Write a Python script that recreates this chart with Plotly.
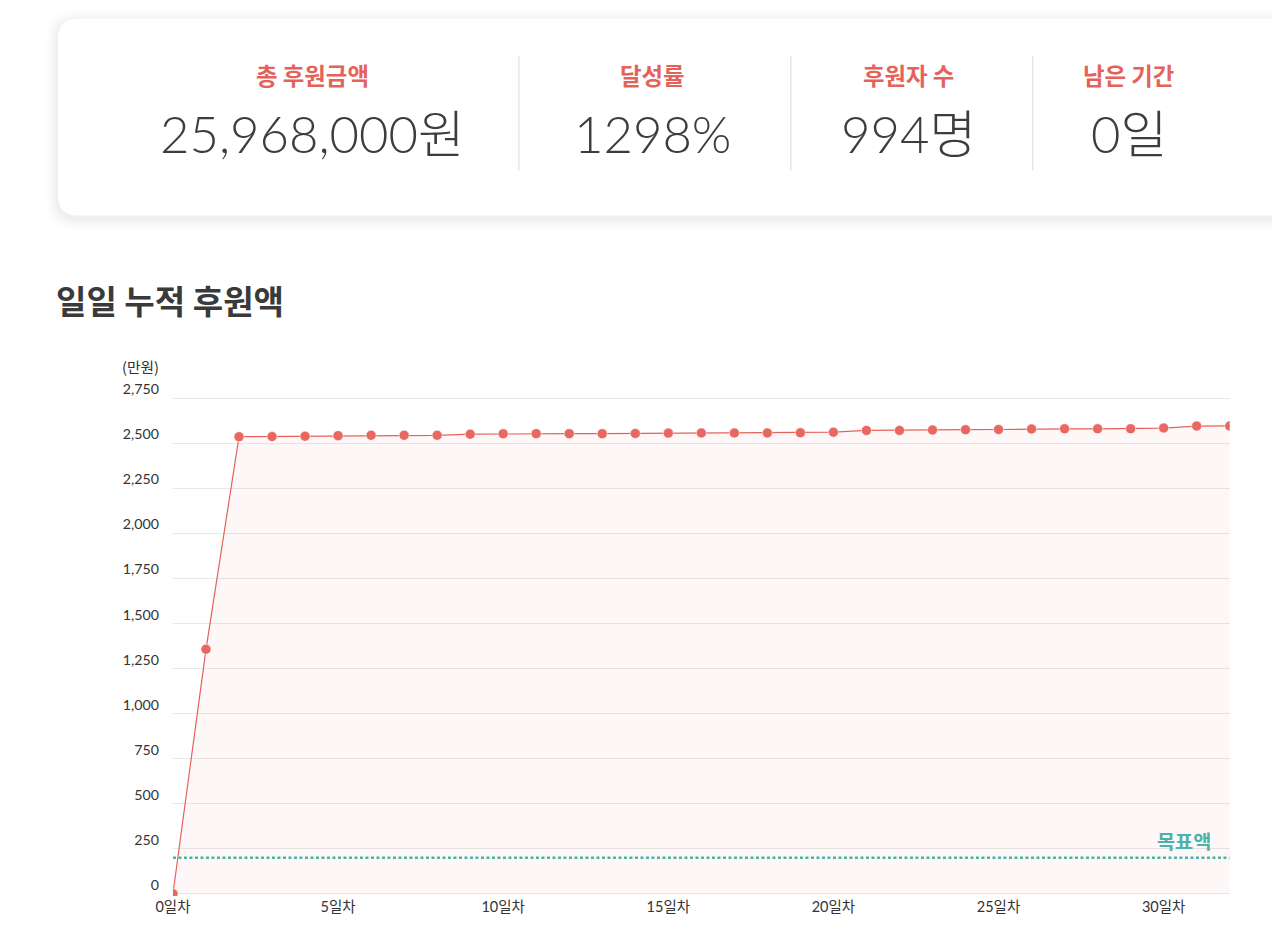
import plotly.graph_objects as go

# ---- data ----
days = list(range(0, 33))
cumulative = [0, 1357, 2537, 2538, 2540, 2543, 2545, 2545, 2545, 2551,
              2553, 2554, 2554, 2554, 2555, 2557, 2558, 2558, 2558, 2559,
              2562, 2572, 2572, 2574, 2576, 2577, 2580, 2581, 2581, 2581,
              2585, 2596, 2596.8]
goal = 200
x_ticks = [0, 5, 10, 15, 20, 25, 30]
x_tick_text = [f"{v}일차" for v in x_ticks]
y_ticks = [0, 250, 500, 750, 1000, 1250, 1500, 1750, 2000, 2250, 2500, 2750]

stat_labels = ["총 후원금액", "달성률", "후원자 수", "남은 기간"]
stat_values = ["25,968,000원", "1298%", "994명", "0일"]

chart_title = "일일 누적 후원액"
unit_label = "(만원)"
goal_label = "목표액"

# ---- geometry helpers: target page pixels -> paper (empirically calibrated) ----
W, H = 1264, 931
AX, BX = 25.0, 0.986
AY, BY = 23.2, 0.984
S = 1 / 0.985  # font compensation
def px(x):
    return ((x - AX) / BX) / W
def py(y):
    return 1 - ((y - AY) / BY) / H
def fs(v):
    return round(v * S, 1)

RED = "rgb(229,98,90)"
TEAL = "rgb(74,178,167)"
FONT = "Lato, 'Noto Sans CJK KR', sans-serif"
KFONT = "'Noto Sans CJK KR', Lato, sans-serif"

# y range padded slightly so the 0 and 2,750 grid lines are drawn inside the plot
Y_PAD = 12
k = (894 - 398) / 2750.0
y_bottom_px = 894 + Y_PAD * k
y_top_px = 398 - Y_PAD * k

fig = go.Figure()

fig.add_trace(go.Scatter(
    x=days, y=cumulative, mode="lines+markers",
    line=dict(color=RED, width=1.2),
    marker=dict(size=10, color="rgb(232,104,97)",
                line=dict(color="rgba(255,255,255,0.5)", width=1)),
    fill="tozeroy", fillcolor="rgba(232,102,95,0.05)",
    hoverinfo="x+y", showlegend=False,
))

fig.add_trace(go.Scatter(
    x=[0, 32], y=[goal, goal], mode="lines",
    line=dict(color=TEAL, width=2.4, dash="3px,2.5px"),
    hoverinfo="skip", showlegend=False,
))

def rounded_rect(x0, y0, x1, y1, r):
    def P(x, y):
        return f"{px(x):.5f},{py(y):.5f}"
    return (f"M {P(x0 + r, y0)} L {P(x1 - r, y0)} Q {P(x1, y0)} {P(x1, y0 + r)} "
            f"L {P(x1, y1 - r)} Q {P(x1, y1)} {P(x1 - r, y1)} "
            f"L {P(x0 + r, y1)} Q {P(x0, y1)} {P(x0, y1 - r)} "
            f"L {P(x0, y0 + r)} Q {P(x0, y0)} {P(x0 + r, y0)} Z")

shapes = []
# soft shadow layers
for i, a in enumerate([0.007, 0.008, 0.009, 0.011, 0.013, 0.015]):
    g = 12 - 2 * i
    shapes.append(dict(type="path", xref="paper", yref="paper",
                       path=rounded_rect(57 - g, 18 - g + 3, 1320 + g, 215 + g + 3, 20 + g),
                       fillcolor=f"rgba(0,0,0,{a})", line=dict(width=0), layer="below"))
shapes.append(dict(type="path", xref="paper", yref="paper",
                   path=rounded_rect(57, 18, 1320, 215, 20),
                   fillcolor="white", line=dict(width=0), layer="below"))
for xd in [518, 790, 1032]:
    shapes.append(dict(type="line", xref="paper", yref="paper",
                       x0=px(xd), x1=px(xd), y0=py(55), y1=py(170),
                       line=dict(color="rgb(232,232,232)", width=1.5)))

annotations = []
centers = [312, 652, 908, 1128]
for cx, lab, val in zip(centers, stat_labels, stat_values):
    annotations.append(dict(x=px(cx), y=py(74), xref="paper", yref="paper",
                            text=f"<b>{lab}</b>", showarrow=False,
                            xanchor="center", yanchor="middle",
                            font=dict(family=KFONT, size=fs(23), color=RED)))
    annotations.append(dict(x=px(cx), y=py(133), xref="paper", yref="paper",
                            text=val, showarrow=False,
                            xanchor="center", yanchor="middle",
                            font=dict(family=FONT, size=fs(50), color="#3d3d3d", weight=300)))

annotations.append(dict(x=px(53), y=py(300), xref="paper", yref="paper",
                        text=f"<b>{chart_title}</b>", showarrow=False,
                        xanchor="left", yanchor="middle",
                        font=dict(family=KFONT, size=fs(32.6), color="#3a3a3a")))
annotations.append(dict(x=px(160), y=py(366), xref="paper", yref="paper",
                        text=unit_label, showarrow=False,
                        xanchor="right", yanchor="middle",
                        font=dict(family=KFONT, size=fs(14.5), color="#333")))
annotations.append(dict(x=32, y=goal, xref="x", yref="y",
                        text=f"<b>{goal_label}</b>", showarrow=False,
                        xanchor="right", yanchor="middle", xshift=-17, yshift=17,
                        font=dict(family=KFONT, size=fs(19.4), color=TEAL)))

fig.update_layout(
    width=W, height=H,
    margin=dict(l=0, r=0, t=0, b=0),
    paper_bgcolor="white", plot_bgcolor="white",
    shapes=shapes, annotations=annotations,
    font=dict(family=FONT, size=13, color="#333"),
    xaxis=dict(domain=[px(172), px(1229)], range=[0, 32],
               tickvals=x_ticks, ticktext=x_tick_text,
               showgrid=False, zeroline=False, showline=False,
               ticks="", ticklabelstandoff=1,
               tickfont=dict(family=FONT, size=fs(14.3), color="#333")),
    yaxis=dict(domain=[py(y_bottom_px), py(y_top_px)], range=[-Y_PAD, 2750 + Y_PAD],
               tickvals=y_ticks, tickformat=",d",
               showgrid=True, gridcolor="rgb(232,232,232)", gridwidth=1,
               zeroline=False, showline=False, ticks="",
               ticklabelshift=-9, ticklabelstandoff=13,
               tickfont=dict(family=FONT, size=fs(14), color="#333")),
)

fig.write_html("out.html")
